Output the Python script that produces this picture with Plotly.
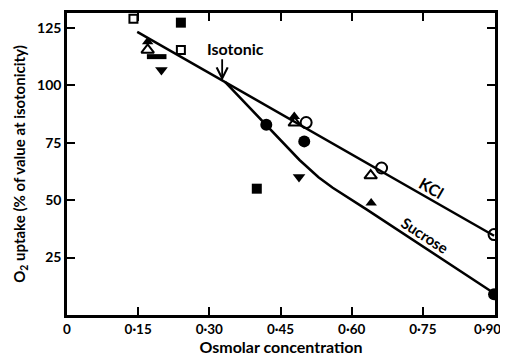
import plotly.graph_objects as go

# Data
kcl_x = [0.148, 0.90]
kcl_y = [123.3, 34.5]
sucrose_x = [0.333, 0.42, 0.49, 0.53, 0.56, 0.632, 0.90]
sucrose_y = [101.5, 82.8, 67.5, 60.0, 55.4, 45.9, 9.5]

open_sq_x = [0.14, 0.24]
open_sq_y = [129, 115.4]
filled_sq_x = [0.24, 0.40]
filled_sq_y = [127.3, 55]
flat_sq_x = [0.189]
flat_sq_y = [112.5]
open_tri_x = [0.17, 0.48, 0.64]
open_tri_y = [115.4, 83.7, 60.7]
filled_tri_x = [0.17, 0.479, 0.641]
filled_tri_y = [119, 86.4, 48.8]
inv_tri_x = [0.199, 0.489]
inv_tri_y = [106.7, 60.1]
filled_circ_x = [0.42, 0.50, 0.90]
filled_circ_y = [82.8, 75.6, 9]
open_circ_x = [0.504, 0.663, 0.90]
open_circ_y = [83.8, 64, 35]

x_ticks = [0, 0.15, 0.30, 0.45, 0.60, 0.75, 0.90]
x_tick_text = ["0", "0·15", "0·30", "0·45", "0·60", "0·75",
               "0·90\u00a0\u00a0\u00a0\u00a0"]
y_ticks = [25, 50, 75, 100, 125]

FONT = "Lato"
fig = go.Figure()

fig.add_trace(go.Scatter(x=kcl_x, y=kcl_y, mode="lines",
                         line=dict(color="black", width=2.5), showlegend=False))
fig.add_trace(go.Scatter(x=sucrose_x, y=sucrose_y, mode="lines",
                         line=dict(color="black", width=2.5),
                         showlegend=False))

def pts(x, y, symbol, size, open_=False, lw=2):
    marker = dict(symbol=symbol, size=size, color="black")
    if open_:
        marker["line"] = dict(color="black", width=lw)
    else:
        marker["line"] = dict(width=0)
    fig.add_trace(go.Scatter(x=x, y=y, mode="markers", marker=marker, showlegend=False))

pts(open_sq_x, open_sq_y, "square-open", 8, True)
pts(filled_sq_x, filled_sq_y, "square", 10)
pts(flat_sq_x, flat_sq_y, "line-ew", 14, True, lw=5)
pts(open_tri_x, open_tri_y, "triangle-up-open", 11, True)
pts(filled_tri_x, filled_tri_y, "triangle-up", 10)
pts(inv_tri_x, inv_tri_y, "triangle-down", 11)
pts(filled_circ_x, filled_circ_y, "circle", 12)
pts(open_circ_x, open_circ_y, "circle-open", 11, True)

fig.add_annotation(x=0.29, y=116, text="Isotonic", showarrow=False,
                   xanchor="left", yanchor="middle",
                   font=dict(family=FONT, size=16, color="black", weight="bold"))
fig.add_annotation(x=0.327, y=102, ax=0.327, ay=112, axref="x", ayref="y",
                   text="", showarrow=True, arrowhead=5, arrowsize=1.2,
                   arrowwidth=1.8, arrowcolor="black")
fig.add_annotation(x=0.768, y=55.4, text="KCl", showarrow=False, textangle=30,
                   font=dict(family=FONT, size=16, color="black", weight="bold"))
fig.add_annotation(x=0.754, y=35, text="Sucrose", showarrow=False, textangle=33,
                   font=dict(family=FONT, size=15, color="black", weight="bold"))

axis_common = dict(showline=True, linecolor="black", linewidth=2.5, mirror="ticks",
                   ticks="inside", ticklen=8, tickwidth=2, tickcolor="black",
                   showgrid=False, zeroline=False, automargin=False,
                   ticklabeloverflow="allow")

fig.update_xaxes(range=[0, 0.902], tickvals=x_ticks, ticktext=x_tick_text,
                 tickfont=dict(family=FONT, size=13.5, color="black", weight="bold"),
                 title=dict(text="Osmolar concentration", standoff=0,
                            font=dict(family=FONT, size=16, color="black", weight="bold")),
                 **axis_common)
fig.update_yaxes(range=[0, 131.5], tickvals=y_ticks,
                 tickfont=dict(family=FONT, size=14, color="black", weight="bold"),
                 title=dict(text="O<sub>2</sub> uptake (% of value at isotonicity)", standoff=8,
                            font=dict(family=FONT, size=15, color="black", weight="bold")),
                 **axis_common)

# page body has an 8px margin, so the figure is offset by 8px; margins compensate
fig.update_layout(width=508, height=351, margin=dict(l=59, r=21, t=5, b=44),
                  plot_bgcolor="white", paper_bgcolor="white",
                  font=dict(family=FONT, color="black"))

fig.write_html("out.html")
